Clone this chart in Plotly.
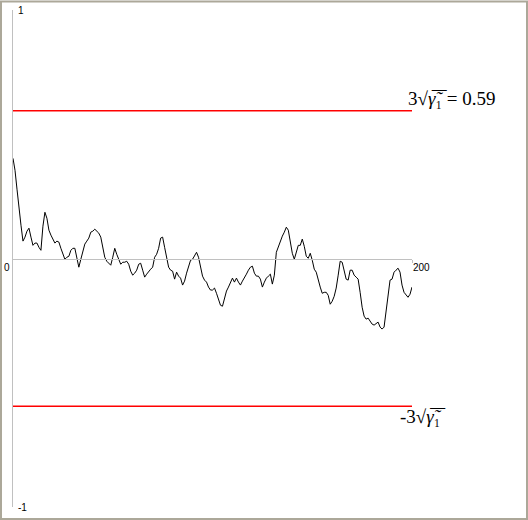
import plotly.graph_objects as go

# Series values (x = 0..200)
x_vals = list(range(201))
y_vals = [
    0.403, 0.355, 0.279, 0.198, 0.134, 0.070, 0.086, 0.110, 0.122, 0.086,
    0.053, 0.062, 0.062, 0.045, 0.033, 0.130, 0.186, 0.162, 0.114, 0.094,
    0.078, 0.062, 0.070, 0.066, 0.041, 0.017, -0.003, 0.005, 0.009, 0.033,
    0.041, 0.041, 0.001, -0.035, -0.003, 0.033, 0.058, 0.070, 0.082, 0.106,
    0.110, 0.118, 0.110, 0.102, 0.086, 0.041, 0.005, -0.011, -0.019, -0.027,
    0.005, 0.041, 0.017, -0.007, -0.023, -0.015, -0.015, -0.011, -0.023, -0.051,
    -0.067, -0.059, -0.047, -0.023, -0.019, -0.047, -0.075, -0.063, -0.051, -0.043,
    -0.035, 0.005, 0.017, 0.041, 0.082, 0.086, 0.045, 0.005, -0.035, -0.047,
    -0.051, -0.083, -0.055, -0.071, -0.079, -0.107, -0.091, -0.059, -0.027, -0.007,
    -0.003, 0.009, 0.025, 0.005, -0.035, -0.071, -0.087, -0.095, -0.115, -0.127,
    -0.127, -0.119, -0.140, -0.164, -0.188, -0.192, -0.164, -0.131, -0.115, -0.099,
    -0.079, -0.095, -0.079, -0.095, -0.107, -0.091, -0.079, -0.063, -0.047, -0.035,
    -0.031, -0.059, -0.071, -0.071, -0.083, -0.115, -0.095, -0.079, -0.071, -0.063,
    -0.103, -0.067, 0.025, 0.049, 0.074, 0.090, 0.106, 0.126, 0.114, 0.066,
    0.021, -0.003, 0.025, 0.053, 0.053, 0.078, 0.049, 0.009, 0.001, 0.021,
    -0.007, -0.043, -0.055, -0.091, -0.115, -0.140, -0.136, -0.136, -0.148, -0.184,
    -0.172, -0.152, -0.119, -0.067, -0.011, -0.015, -0.047, -0.083, -0.087, -0.047,
    -0.047, -0.067, -0.075, -0.083, -0.136, -0.196, -0.232, -0.244, -0.240, -0.252,
    -0.264, -0.268, -0.260, -0.256, -0.276, -0.284, -0.276, -0.216, -0.144, -0.087,
    -0.083, -0.055, -0.047, -0.039, -0.055, -0.107, -0.136, -0.144, -0.156, -0.144,
    -0.115,
]

limit = 0.595           # 3*sqrt(gamma_1)
x_range = [0, 200]
y_range = [-1, 1]
y_tick_vals = [-1, 1]
y_tick_text = ["-1", "1"]
x_end_labels = ["0", "200"]
OL = "\u0305"
upper_label = "3√<i>γ\u0303" + OL + "</i>₁" + OL + " = 0.59"
lower_label = "-3√<i>γ\u0303" + OL + "</i>₁" + OL

fig = go.Figure()

fig.add_trace(go.Scatter(x=x_range, y=[limit, limit], mode="lines",
                         line=dict(color="#ff0000", width=1.5), hoverinfo="skip"))
fig.add_trace(go.Scatter(x=x_range, y=[-limit, -limit], mode="lines",
                         line=dict(color="#ff0000", width=1.5), hoverinfo="skip"))
fig.add_trace(go.Scatter(x=x_vals, y=y_vals, mode="lines",
                         line=dict(color="#000000", width=1)))

axis_gray = "#c0c0c0"
tick_font = dict(family="Liberation Sans, Arial, sans-serif", size=10, color="#000000")

fig.update_layout(
    width=528, height=520,
    margin=dict(l=13, r=116, t=10, b=13),
    paper_bgcolor="white", plot_bgcolor="white",
    showlegend=False,
    xaxis=dict(range=x_range, showgrid=False, zeroline=False, automargin=False,
               showline=True, linecolor=axis_gray, linewidth=1,
               anchor="free", position=0.5,
               ticks="outside", tickvals=[x_range[1]], ticklen=3,
               tickcolor=axis_gray, showticklabels=False),
    yaxis=dict(range=y_range, showgrid=False, zeroline=False, automargin=False,
               showline=True, linecolor=axis_gray, linewidth=1,
               ticks="inside", tickvals=y_tick_vals, ticktext=y_tick_text,
               ticklen=4, tickcolor=axis_gray, ticklabelposition="inside",
               ticklabeloverflow="allow", tickfont=tick_font),
)

# end labels of the zero axis
fig.add_annotation(x=x_range[0], y=0, text=x_end_labels[0], showarrow=False,
                   xanchor="right", yanchor="top", xshift=-1, yshift=-1, font=tick_font)
fig.add_annotation(x=x_range[1], y=0, text=x_end_labels[1], showarrow=False,
                   xanchor="left", yanchor="top", xshift=-1, yshift=-1, font=tick_font)

serif = dict(family="Liberation Serif, Times New Roman, serif", size=19, color="#000000")
fig.add_annotation(x=x_range[1], y=limit, text=upper_label, showarrow=False,
                   xanchor="left", yanchor="bottom", xshift=-6, yshift=0, font=serif)
fig.add_annotation(x=x_range[1], y=-limit, text=lower_label, showarrow=False,
                   xanchor="left", yanchor="top", xshift=-14, yshift=2, font=serif)

# outer frame
fig.add_shape(type="rect", xref="paper", yref="paper",
              x0=-12 / 399, x1=(527 - 13) / 399,
              y0=-12 / 497.5, y1=1 + 8.5 / 497.5,
              line=dict(color="#aca899", width=2), layer="above")

fig.write_html("out.html", config={"displayModeBar": False},
               post_script="document.body.style.margin='0px';document.body.style.overflow='hidden';")
